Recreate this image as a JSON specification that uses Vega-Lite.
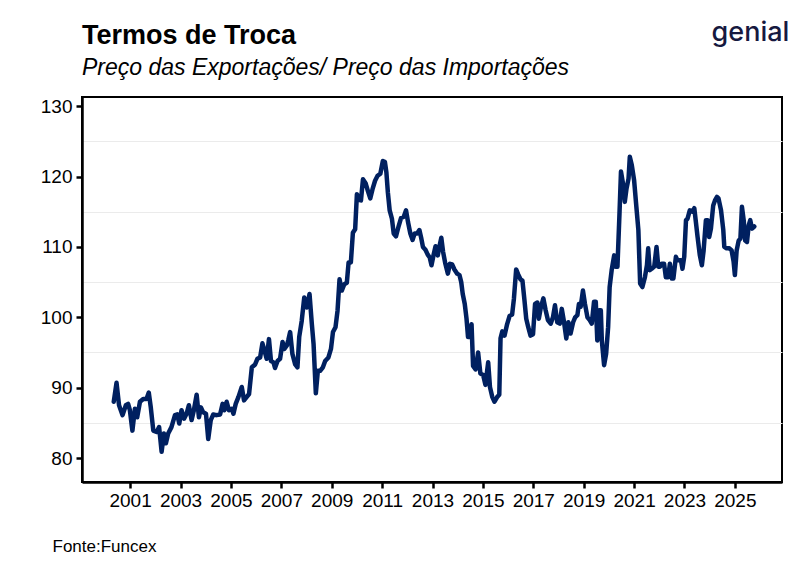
{
  "$schema": "https://vega.github.io/schema/vega-lite/v6.json",
  "width": 700,
  "height": 385,
  "autosize": {"type": "none"},
  "padding": {"left": 82, "top": 97, "right": 28, "bottom": 96},
  "background": "white",
  "title": {
    "text": "Termos de Troca",
    "subtitle": "Preço das Exportações/ Preço das Importações",
    "anchor": "start",
    "frame": "group",
    "font": "Liberation Sans",
    "fontSize": 27,
    "fontWeight": "bold",
    "color": "black",
    "subtitleFont": "Liberation Sans",
    "subtitleFontSize": 23,
    "subtitleFontStyle": "italic",
    "subtitleColor": "black",
    "subtitlePadding": 7,
    "offset": 16,
    "dy": 79
  },
  "data": {
    "values": [
      {"ano": 2000.35, "indice": 88.0}, {"ano": 2000.46, "indice": 90.7}, {"ano": 2000.56, "indice": 87.5}, {"ano": 2000.70, "indice": 86.1},
      {"ano": 2000.83, "indice": 87.5}, {"ano": 2000.92, "indice": 87.7}, {"ano": 2000.99, "indice": 86.8}, {"ano": 2001.09, "indice": 83.9},
      {"ano": 2001.19, "indice": 87.0}, {"ano": 2001.28, "indice": 85.8}, {"ano": 2001.39, "indice": 88.0}, {"ano": 2001.52, "indice": 88.4},
      {"ano": 2001.65, "indice": 88.4}, {"ano": 2001.74, "indice": 89.3}, {"ano": 2001.82, "indice": 87.2}, {"ano": 2001.92, "indice": 83.9},
      {"ano": 2002.05, "indice": 83.7}, {"ano": 2002.15, "indice": 84.4}, {"ano": 2002.25, "indice": 80.9}, {"ano": 2002.34, "indice": 83.5},
      {"ano": 2002.42, "indice": 82.1}, {"ano": 2002.51, "indice": 83.5}, {"ano": 2002.64, "indice": 84.4}, {"ano": 2002.78, "indice": 86.1},
      {"ano": 2002.87, "indice": 86.2}, {"ano": 2002.95, "indice": 84.9}, {"ano": 2003.04, "indice": 86.8}, {"ano": 2003.14, "indice": 85.6},
      {"ano": 2003.24, "indice": 86.3}, {"ano": 2003.33, "indice": 87.5}, {"ano": 2003.44, "indice": 85.4}, {"ano": 2003.53, "indice": 86.8},
      {"ano": 2003.64, "indice": 89.0}, {"ano": 2003.73, "indice": 85.8}, {"ano": 2003.81, "indice": 87.2}, {"ano": 2003.90, "indice": 86.5},
      {"ano": 2004.01, "indice": 86.3}, {"ano": 2004.10, "indice": 82.7}, {"ano": 2004.20, "indice": 85.4}, {"ano": 2004.30, "indice": 86.2},
      {"ano": 2004.43, "indice": 86.1}, {"ano": 2004.57, "indice": 86.2}, {"ano": 2004.67, "indice": 87.7}, {"ano": 2004.74, "indice": 86.8},
      {"ano": 2004.83, "indice": 88.0}, {"ano": 2004.92, "indice": 86.8}, {"ano": 2005.03, "indice": 87.0}, {"ano": 2005.10, "indice": 86.3},
      {"ano": 2005.19, "indice": 87.7}, {"ano": 2005.30, "indice": 88.7}, {"ano": 2005.43, "indice": 90.1}, {"ano": 2005.52, "indice": 88.2},
      {"ano": 2005.63, "indice": 88.7}, {"ano": 2005.72, "indice": 89.1}, {"ano": 2005.83, "indice": 92.9}, {"ano": 2005.96, "indice": 93.3},
      {"ano": 2006.05, "indice": 94.1}, {"ano": 2006.16, "indice": 94.3}, {"ano": 2006.25, "indice": 96.3}, {"ano": 2006.33, "indice": 95.3},
      {"ano": 2006.42, "indice": 94.1}, {"ano": 2006.51, "indice": 96.9}, {"ano": 2006.59, "indice": 93.8}, {"ano": 2006.69, "indice": 93.6},
      {"ano": 2006.75, "indice": 92.8}, {"ano": 2006.85, "indice": 93.8}, {"ano": 2006.95, "indice": 94.1}, {"ano": 2007.05, "indice": 96.5},
      {"ano": 2007.12, "indice": 95.5}, {"ano": 2007.22, "indice": 96.0}, {"ano": 2007.28, "indice": 96.8}, {"ano": 2007.35, "indice": 97.9},
      {"ano": 2007.44, "indice": 94.8}, {"ano": 2007.55, "indice": 93.3}, {"ano": 2007.64, "indice": 92.9}, {"ano": 2007.71, "indice": 97.2},
      {"ano": 2007.81, "indice": 99.5}, {"ano": 2007.91, "indice": 102.8}, {"ano": 2008.01, "indice": 101.4}, {"ano": 2008.12, "indice": 103.3},
      {"ano": 2008.21, "indice": 99.1}, {"ano": 2008.28, "indice": 96.2}, {"ano": 2008.37, "indice": 89.2}, {"ano": 2008.45, "indice": 92.4},
      {"ano": 2008.54, "indice": 92.4}, {"ano": 2008.65, "indice": 92.9}, {"ano": 2008.74, "indice": 93.8}, {"ano": 2008.87, "indice": 94.3},
      {"ano": 2008.97, "indice": 95.5}, {"ano": 2009.05, "indice": 97.9}, {"ano": 2009.15, "indice": 98.6}, {"ano": 2009.23, "indice": 100.9},
      {"ano": 2009.31, "indice": 105.4}, {"ano": 2009.40, "indice": 103.8}, {"ano": 2009.50, "indice": 104.7}, {"ano": 2009.60, "indice": 104.9},
      {"ano": 2009.67, "indice": 107.8}, {"ano": 2009.76, "indice": 107.8}, {"ano": 2009.84, "indice": 112.0}, {"ano": 2009.93, "indice": 112.5},
      {"ano": 2010.00, "indice": 117.5}, {"ano": 2010.07, "indice": 116.7}, {"ano": 2010.16, "indice": 116.6}, {"ano": 2010.24, "indice": 119.6},
      {"ano": 2010.35, "indice": 119.0}, {"ano": 2010.44, "indice": 117.9}, {"ano": 2010.53, "indice": 116.9}, {"ano": 2010.62, "indice": 118.2},
      {"ano": 2010.72, "indice": 119.4}, {"ano": 2010.82, "indice": 120.1}, {"ano": 2010.93, "indice": 120.4}, {"ano": 2011.03, "indice": 122.2},
      {"ano": 2011.11, "indice": 122.1}, {"ano": 2011.17, "indice": 120.6}, {"ano": 2011.23, "indice": 117.7}, {"ano": 2011.30, "indice": 115.2},
      {"ano": 2011.39, "indice": 114.0}, {"ano": 2011.46, "indice": 111.9}, {"ano": 2011.55, "indice": 111.5}, {"ano": 2011.66, "indice": 113.0},
      {"ano": 2011.75, "indice": 114.1}, {"ano": 2011.86, "indice": 114.3}, {"ano": 2011.95, "indice": 115.2}, {"ano": 2012.03, "indice": 113.5},
      {"ano": 2012.12, "indice": 111.9}, {"ano": 2012.21, "indice": 111.0}, {"ano": 2012.29, "indice": 111.9}, {"ano": 2012.39, "indice": 111.9},
      {"ano": 2012.48, "indice": 112.4}, {"ano": 2012.55, "indice": 111.3}, {"ano": 2012.62, "indice": 110.0}, {"ano": 2012.72, "indice": 109.6},
      {"ano": 2012.81, "indice": 108.9}, {"ano": 2012.89, "indice": 108.5}, {"ano": 2012.96, "indice": 107.4}, {"ano": 2013.05, "indice": 109.0},
      {"ano": 2013.12, "indice": 110.1}, {"ano": 2013.21, "indice": 108.8}, {"ano": 2013.27, "indice": 110.0}, {"ano": 2013.35, "indice": 111.3},
      {"ano": 2013.42, "indice": 109.3}, {"ano": 2013.51, "indice": 107.6}, {"ano": 2013.61, "indice": 106.2}, {"ano": 2013.69, "indice": 107.6},
      {"ano": 2013.78, "indice": 107.5}, {"ano": 2013.87, "indice": 106.8}, {"ano": 2013.98, "indice": 106.2}, {"ano": 2014.07, "indice": 106.0},
      {"ano": 2014.14, "indice": 105.0}, {"ano": 2014.20, "indice": 103.3}, {"ano": 2014.28, "indice": 101.9}, {"ano": 2014.35, "indice": 99.8},
      {"ano": 2014.41, "indice": 97.2}, {"ano": 2014.48, "indice": 97.2}, {"ano": 2014.55, "indice": 99.0}, {"ano": 2014.61, "indice": 93.1},
      {"ano": 2014.71, "indice": 92.6}, {"ano": 2014.81, "indice": 95.0}, {"ano": 2014.90, "indice": 92.0}, {"ano": 2015.01, "indice": 91.8},
      {"ano": 2015.10, "indice": 90.4}, {"ano": 2015.21, "indice": 93.6}, {"ano": 2015.28, "indice": 90.1}, {"ano": 2015.37, "indice": 88.7},
      {"ano": 2015.46, "indice": 88.0}, {"ano": 2015.57, "indice": 88.7}, {"ano": 2015.65, "indice": 89.0}, {"ano": 2015.70, "indice": 97.0},
      {"ano": 2015.77, "indice": 98.0}, {"ano": 2015.86, "indice": 97.4}, {"ano": 2015.96, "indice": 99.0}, {"ano": 2016.06, "indice": 100.2},
      {"ano": 2016.16, "indice": 100.4}, {"ano": 2016.23, "indice": 102.6}, {"ano": 2016.32, "indice": 106.8}, {"ano": 2016.40, "indice": 106.1},
      {"ano": 2016.49, "indice": 105.4}, {"ano": 2016.57, "indice": 105.2}, {"ano": 2016.65, "indice": 102.4}, {"ano": 2016.72, "indice": 99.8},
      {"ano": 2016.80, "indice": 98.6}, {"ano": 2016.89, "indice": 97.4}, {"ano": 2016.99, "indice": 97.6}, {"ano": 2017.07, "indice": 101.9},
      {"ano": 2017.16, "indice": 102.1}, {"ano": 2017.22, "indice": 99.8}, {"ano": 2017.30, "indice": 101.4}, {"ano": 2017.40, "indice": 102.7},
      {"ano": 2017.49, "indice": 101.0}, {"ano": 2017.58, "indice": 99.6}, {"ano": 2017.69, "indice": 99.1}, {"ano": 2017.78, "indice": 100.0},
      {"ano": 2017.86, "indice": 101.7}, {"ano": 2017.95, "indice": 99.3}, {"ano": 2018.05, "indice": 99.1}, {"ano": 2018.13, "indice": 101.2},
      {"ano": 2018.22, "indice": 99.3}, {"ano": 2018.31, "indice": 97.0}, {"ano": 2018.39, "indice": 99.3}, {"ano": 2018.48, "indice": 97.7},
      {"ano": 2018.58, "indice": 99.3}, {"ano": 2018.66, "indice": 100.0}, {"ano": 2018.75, "indice": 100.3}, {"ano": 2018.81, "indice": 101.9},
      {"ano": 2018.88, "indice": 101.5}, {"ano": 2018.97, "indice": 103.8}, {"ano": 2019.05, "indice": 101.9}, {"ano": 2019.15, "indice": 100.0},
      {"ano": 2019.24, "indice": 99.6}, {"ano": 2019.32, "indice": 99.1}, {"ano": 2019.41, "indice": 102.2}, {"ano": 2019.48, "indice": 102.2},
      {"ano": 2019.54, "indice": 96.7}, {"ano": 2019.61, "indice": 101.0}, {"ano": 2019.68, "indice": 101.0}, {"ano": 2019.72, "indice": 96.7},
      {"ano": 2019.81, "indice": 93.2}, {"ano": 2019.89, "indice": 94.8}, {"ano": 2019.97, "indice": 98.6}, {"ano": 2020.03, "indice": 104.3},
      {"ano": 2020.11, "indice": 106.7}, {"ano": 2020.21, "indice": 108.8}, {"ano": 2020.27, "indice": 107.2}, {"ano": 2020.34, "indice": 107.2},
      {"ano": 2020.42, "indice": 114.7}, {"ano": 2020.48, "indice": 120.7}, {"ano": 2020.56, "indice": 119.0}, {"ano": 2020.63, "indice": 116.4},
      {"ano": 2020.70, "indice": 118.3}, {"ano": 2020.78, "indice": 119.7}, {"ano": 2020.83, "indice": 122.8}, {"ano": 2020.91, "indice": 121.6},
      {"ano": 2021.00, "indice": 119.5}, {"ano": 2021.09, "indice": 115.7}, {"ano": 2021.17, "indice": 112.4}, {"ano": 2021.24, "indice": 104.8},
      {"ano": 2021.33, "indice": 104.3}, {"ano": 2021.43, "indice": 105.7}, {"ano": 2021.51, "indice": 107.4}, {"ano": 2021.56, "indice": 109.8},
      {"ano": 2021.62, "indice": 106.7}, {"ano": 2021.70, "indice": 106.9}, {"ano": 2021.80, "indice": 107.2}, {"ano": 2021.89, "indice": 110.0},
      {"ano": 2021.96, "indice": 107.2}, {"ano": 2022.03, "indice": 107.2}, {"ano": 2022.10, "indice": 107.6}, {"ano": 2022.19, "indice": 107.6},
      {"ano": 2022.26, "indice": 105.7}, {"ano": 2022.35, "indice": 105.7}, {"ano": 2022.42, "indice": 107.6}, {"ano": 2022.50, "indice": 105.5},
      {"ano": 2022.56, "indice": 105.5}, {"ano": 2022.66, "indice": 108.6}, {"ano": 2022.72, "indice": 108.1}, {"ano": 2022.79, "indice": 108.1},
      {"ano": 2022.86, "indice": 108.1}, {"ano": 2022.92, "indice": 106.9}, {"ano": 2022.99, "indice": 108.6}, {"ano": 2023.06, "indice": 113.8},
      {"ano": 2023.12, "indice": 114.0}, {"ano": 2023.21, "indice": 115.2}, {"ano": 2023.32, "indice": 115.0}, {"ano": 2023.39, "indice": 115.5},
      {"ano": 2023.45, "indice": 113.6}, {"ano": 2023.52, "indice": 111.4}, {"ano": 2023.61, "indice": 108.8}, {"ano": 2023.69, "indice": 107.4},
      {"ano": 2023.76, "indice": 109.5}, {"ano": 2023.85, "indice": 113.8}, {"ano": 2023.92, "indice": 113.8}, {"ano": 2023.98, "indice": 111.4},
      {"ano": 2024.05, "indice": 112.6}, {"ano": 2024.14, "indice": 115.9}, {"ano": 2024.21, "indice": 116.6}, {"ano": 2024.29, "indice": 117.1},
      {"ano": 2024.35, "indice": 116.9}, {"ano": 2024.45, "indice": 115.2}, {"ano": 2024.54, "indice": 112.4}, {"ano": 2024.58, "indice": 110.0},
      {"ano": 2024.67, "indice": 109.8}, {"ano": 2024.78, "indice": 109.8}, {"ano": 2024.87, "indice": 109.5}, {"ano": 2024.95, "indice": 107.9},
      {"ano": 2025.00, "indice": 106.0}, {"ano": 2025.07, "indice": 109.5}, {"ano": 2025.15, "indice": 110.9}, {"ano": 2025.22, "indice": 111.2},
      {"ano": 2025.28, "indice": 115.7}, {"ano": 2025.35, "indice": 113.8}, {"ano": 2025.41, "indice": 110.9}, {"ano": 2025.48, "indice": 110.7},
      {"ano": 2025.55, "indice": 113.1}, {"ano": 2025.61, "indice": 113.8}, {"ano": 2025.68, "indice": 112.6}, {"ano": 2025.77, "indice": 112.9}
    ]
  },
  "mark": {"type": "line", "color": "#002060", "strokeWidth": 4.5, "strokeJoin": "round", "strokeCap": "round", "clip": true},
  "encoding": {
    "x": {
      "field": "ano",
      "type": "quantitative",
      "scale": {"domain": [1999.09, 2026.87], "nice": false, "zero": false},
      "axis": {
        "values": [2001, 2003, 2005, 2007, 2009, 2011, 2013, 2015, 2017, 2019, 2021, 2023, 2025],
        "format": "d",
        "grid": false,
        "labelFont": "Liberation Sans",
        "labelFontSize": 19,
        "labelColor": "black",
        "labelPadding": 3,
        "labelFlush": false,
        "labelOverlap": false,
        "tickSize": 6,
        "tickWidth": 2.5,
        "tickColor": "black",
        "domainColor": "black",
        "domainWidth": 2.5,
        "title": "Fonte:Funcex",
        "titleFont": "Liberation Sans",
        "titleFontSize": 17,
        "titleFontWeight": "normal",
        "titleColor": "black",
        "titleX": -30,
        "titleY": 69,
        "titleAlign": "left",
        "titleBaseline": "alphabetic"
      }
    },
    "y": {
      "field": "indice",
      "type": "quantitative",
      "scale": {"domain": [76.6, 131.3], "nice": false, "zero": false},
      "axis": {
        "values": [80, 85, 90, 95, 100, 105, 110, 115, 120, 125, 130],
        "labelExpr": "datum.value % 10 == 0 ? datum.label : ''",
        "grid": true,
        "gridColor": {"condition": {"test": "datum.value % 10 == 0", "value": "rgba(0,0,0,0)"}, "value": "#ebebeb"},
        "gridWidth": 1,
        "tickOpacity": {"condition": {"test": "datum.value % 10 != 0", "value": 0}, "value": 1},
        "labelFont": "Liberation Sans",
        "labelFontSize": 19,
        "labelColor": "black",
        "labelPadding": 4,
        "tickSize": 6,
        "tickWidth": 2.5,
        "tickColor": "black",
        "domainColor": "black",
        "domainWidth": 2.5,
        "title": "genial",
        "titleAngle": 0,
        "titleX": 668,
        "titleY": -57,
        "titleAlign": "center",
        "titleBaseline": "alphabetic",
        "titleFont": "Inter",
        "titleFontSize": 27,
        "titleFontWeight": 500,
        "titleColor": "#16193f"
      }
    }
  },
  "config": {
    "view": {"stroke": "black", "strokeWidth": 2},
    "font": "Liberation Sans"
  }
}
